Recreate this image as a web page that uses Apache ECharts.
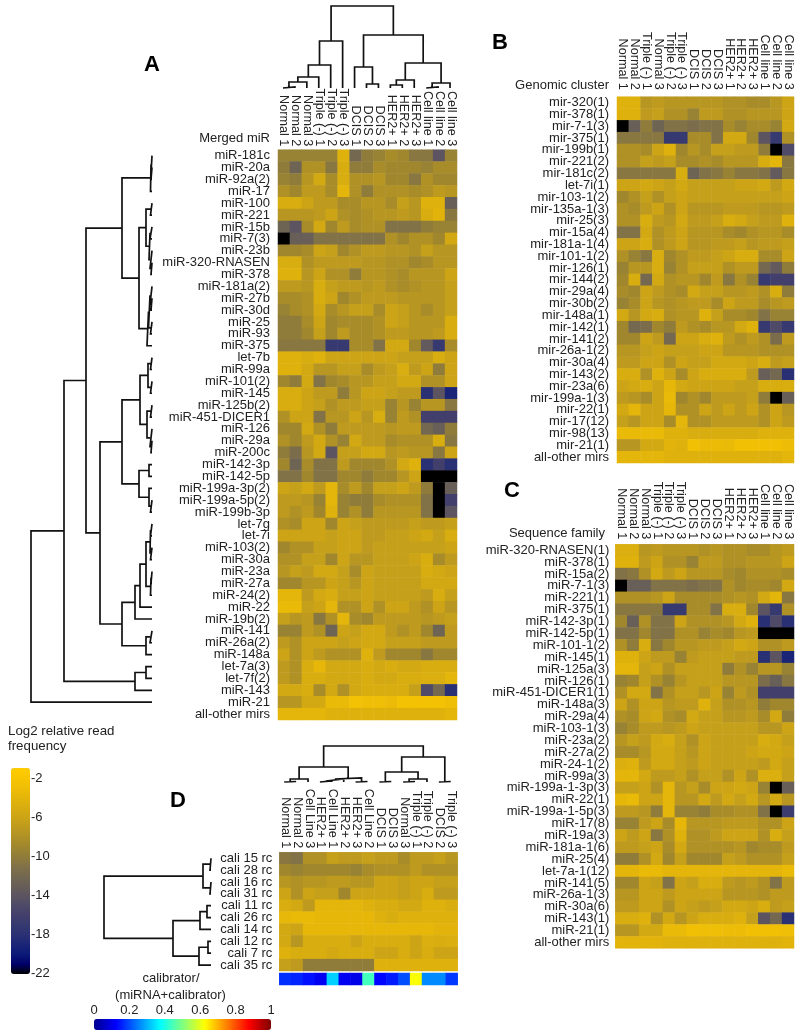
<!DOCTYPE html>
<html><head><meta charset="utf-8">
<style>html,body{margin:0;padding:0;background:#fff}#c{width:800px;height:1036px}</style>
<script src="https://cdn.jsdelivr.net/npm/echarts@6/dist/echarts.min.js"></script>
</head><body><div id="c"></div>
<script>
const colsStd=["Normal 1","Normal 2","Normal 3","Triple (-) 1","Triple (-) 2","Triple (-) 3","DCIS 1","DCIS 2","DCIS 3","HER2+ 1","HER2+ 2","HER2+ 3","Cell line 1","Cell line 2","Cell line 3"];
const colsB=["Normal 1","Normal 2","Triple (-) 1","Normal 3","Triple (-) 2","Triple (-) 3","DCIS 1","DCIS 2","DCIS 3","HER2+ 1","HER2+ 2","HER2+ 3","Cell line 1","Cell line 2","Cell line 3"];
const colsD=["Normal 1","Normal 2","Cell Line 3","HER2+ 1","Cell Line 1","HER2+ 2","HER2+ 3","Cell Line 2","DCIS 1","DCIS 3","Normal 3","Triple (-) 1","Triple (-) 2","DCIS 2","Triple (-) 3"];

const rowsA=["miR-181c","miR-20a","miR-92a(2)","miR-17","miR-100","miR-221","miR-15b","miR-7(3)","miR-23b","miR-320-RNASEN","miR-378","miR-181a(2)","miR-27b","miR-30d","miR-25","miR-93","miR-375","let-7b","miR-99a","miR-101(2)","miR-145","miR-125b(2)","miR-451-DICER1","miR-126","miR-29a","miR-200c","miR-142-3p","miR-142-5p","miR-199a-3p(2)","miR-199a-5p(2)","miR-199b-3p","let-7g","let-7i","miR-103(2)","miR-30a","miR-23a","miR-27a","miR-24(2)","miR-22","miR-19b(2)","miR-141","miR-26a(2)","miR-148a","let-7a(3)","let-7f(2)","miR-143","miR-21","all-other mirs"];
const valuesA=[
[-9.5,-9.5,-9.5,-9.5,-9.5,-4.5,-12,-10,-9.5,-8.5,-9,-10.5,-10.5,-14,-9.5],
[-10,-12.5,-8,-8,-10.5,-5,-10,-10,-8.5,-9,-9,-9,-9.5,-8.5,-8.5],
[-9.5,-10,-7.5,-5.5,-8.5,-5,-8,-8,-7.5,-9,-9,-10.5,-8,-9,-9],
[-8,-9,-7,-7,-8.5,-4,-8,-10,-8,-8,-8,-8.5,-8,-7,-7.5],
[-5,-5,-6,-7,-7,-8.5,-8.5,-7.5,-7.5,-8.5,-6.5,-7.5,-4.5,-4.5,-13],
[-7.5,-7.5,-7.5,-7,-6,-8,-8.5,-8,-7.5,-7.5,-7,-7.5,-5,-4.2,-10.5],
[-12.5,-14,-8.5,-5.5,-9,-7,-8.5,-8,-8,-11,-11,-11,-10,-9.5,-9.5],
[-22,-13,-13,-11,-11,-11,-11,-11,-11,-8,-9,-8,-8,-9,-5.5],
[-9,-9,-8.5,-6,-6.5,-9,-8,-7,-7,-7.5,-7.5,-8,-6.5,-7.5,-7.5],
[-5,-5,-8,-7,-7,-7,-7,-7.5,-7.5,-8,-8,-9,-8.5,-7.5,-7.5],
[-4.5,-4.5,-7.5,-6,-8,-8,-10,-7.5,-7.5,-8,-8.5,-7.5,-7.5,-7.5,-6],
[-7,-7,-7.5,-5,-6.5,-7,-7,-7.5,-7,-8,-8.5,-8,-7.5,-7.5,-6.5],
[-8.5,-8.5,-8,-5,-6,-9,-8,-7,-7,-7,-7.5,-7.5,-7.5,-7.5,-6.5],
[-9.5,-8.5,-8,-5.5,-8.5,-7.5,-6.5,-6.5,-8.5,-6,-6.5,-7.5,-8.5,-7.5,-6.5],
[-10,-10,-8.5,-6,-9,-8.5,-8.5,-8.5,-8,-6,-6.5,-7.5,-7.5,-7.5,-5],
[-10,-10,-9,-6.5,-9,-7,-8.5,-8.5,-8,-7,-7,-7.5,-7.5,-7,-5],
[-10.5,-10.5,-10.5,-10.5,-17,-17,-8.5,-8.5,-11,-5.5,-5.5,-9,-13.5,-17,-8.5],
[-4.5,-4.5,-5,-4.5,-6,-6,-6,-6,-6,-6,-6.5,-6.5,-6.5,-5,-6],
[-4.5,-4.5,-5.5,-7.5,-7.5,-6.5,-6.5,-8.5,-7,-6.5,-5,-7,-6,-10,-6],
[-9,-10,-5.5,-11,-9,-8.5,-7.5,-7.5,-6.5,-6.5,-5.5,-5.5,-8,-8,-6],
[-5,-5,-6,-7,-7,-10,-7.5,-6,-6,-6.5,-7,-7,-18,-14,-19],
[-5,-5,-6,-6.5,-8,-7,-7,-6.5,-6.5,-9.5,-7.5,-9.5,-7.5,-7.5,-10.5],
[-8,-6,-6,-11,-7.5,-7.5,-6,-7.5,-5,-9.5,-7,-8,-16,-16,-16],
[-9,-9,-5.5,-8,-10,-7,-7,-7,-7,-7.5,-7,-7,-12,-13,-10],
[-8,-9,-7,-5.5,-8,-9.5,-5.5,-7,-7,-8.5,-8,-8,-8,-5,-10.5],
[-10,-11.5,-7.5,-5.5,-14,-6.5,-6.5,-5.5,-5.5,-7.5,-7,-7.5,-7.5,-10.5,-6],
[-9,-12.5,-8.5,-11,-11,-7,-9,-9,-9,-8,-5.5,-4.5,-18,-16,-18],
[-11,-11,-9,-11,-11,-9,-9,-10,-9,-9,-7.5,-6,-22,-22,-22],
[-6,-6.5,-5.5,-7,-4,-8.5,-7,-9,-6.5,-6.5,-6,-7,-10,-22,-13],
[-7,-7,-7.5,-9.5,-4,-9.5,-10,-10,-8.5,-8,-8,-8,-11,-22,-16],
[-7,-8,-7,-9,-4.5,-9.5,-8,-10,-7.5,-7.5,-7.5,-7.5,-11,-22,-14],
[-8,-8.5,-6,-6,-9,-6,-6.5,-7,-7,-7,-7,-6.5,-7,-7,-6.5],
[-6,-6,-6,-6,-6.5,-6,-6,-7,-7,-6.5,-6.5,-6,-5.5,-6.5,-5],
[-9,-8,-8,-6.5,-6.5,-6,-6,-7,-6.5,-6.5,-6.5,-6.5,-6.5,-6.5,-6],
[-8,-8,-6.5,-6.5,-9,-6,-7.5,-7.5,-6.5,-6.5,-6.5,-6,-5,-8.5,-7],
[-7.5,-6.5,-7,-5.5,-5.5,-6.5,-8.5,-6,-6.5,-6.5,-6.5,-6.5,-5,-5.5,-6],
[-9,-9,-7.5,-7.5,-6,-6.5,-7.5,-6,-6.5,-6.5,-6.5,-6.5,-5.5,-5.5,-5.5],
[-4,-4,-7,-5.5,-5,-6.5,-6.5,-6,-6.5,-6.5,-6.5,-6.5,-7,-5,-6.5],
[-3.5,-3.5,-6.5,-6,-4,-8,-8,-6,-8,-6,-6,-7,-8,-6,-7.5],
[-6.5,-7.5,-7,-10.5,-8,-4,-8.5,-9,-7,-7,-7,-7,-7.5,-7,-6.5],
[-9.5,-9.5,-7,-8,-12.5,-6,-6.5,-5.5,-5.5,-7,-8,-7,-9,-12.5,-7],
[-7,-8,-6,-6,-6,-6.5,-6,-5.5,-5.5,-6.5,-6.5,-6.5,-7,-7,-7],
[-6,-8,-6,-7,-8,-8,-8,-4.5,-7,-9,-9,-9,-10.5,-9,-9],
[-7,-8,-5,-3.8,-5.5,-5.5,-5.5,-5,-5.5,-5,-5.5,-5.5,-5,-5,-5],
[-7,-8,-5,-5,-5.5,-5.5,-5.5,-5,-5.5,-5.5,-5,-5,-4.8,-4.8,-4],
[-5.5,-5.5,-5,-8.5,-5.5,-8,-5.5,-5,-5,-5,-5,-6.5,-15,-12,-18],
[-7.5,-7.5,-5.5,-5.5,-3.5,-3.5,-2.5,-3,-3,-3.3,-2.5,-2.5,-2.5,-2.5,-3],
[-4,-4,-4,-4,-4.5,-4.5,-4.5,-4.5,-4.5,-4.5,-4.5,-4.5,-4.5,-4.5,-4]
];

const rowsB=["mir-320(1)","mir-378(1)","mir-7-1(3)","mir-375(1)","mir-199b(1)","mir-221(2)","mir-181c(2)","let-7i(1)","mir-103-1(2)","mir-135a-1(3)","mir-25(3)","mir-15a(4)","mir-181a-1(4)","mir-101-1(2)","mir-126(1)","mir-144(2)","mir-29a(4)","mir-30b(2)","mir-148a(1)","mir-142(1)","mir-141(2)","mir-26a-1(2)","mir-30a(4)","mir-143(2)","mir-23a(6)","mir-199a-1(3)","mir-22(1)","mir-17(12)","mir-98(13)","mir-21(1)","all-other mirs"];
const valuesB=[
[-4.5,-4.5,-7.5,-7,-7.5,-7.5,-7.5,-7.5,-7.5,-8,-8,-8.5,-8.5,-7.5,-6],
[-4.5,-4.5,-7,-6.5,-8,-8,-9.5,-7,-7,-8,-8,-7.5,-7.5,-7.5,-6],
[-22,-13,-10,-12.5,-11,-11,-11.5,-11,-11,-8.5,-9.5,-8.5,-8.5,-9.5,-5.5],
[-10.5,-10.5,-10.5,-10.5,-17,-17,-8.5,-8.5,-11,-5.5,-5.5,-9,-14,-17,-8],
[-8,-8,-8.5,-6,-4.5,-9,-7.5,-8.5,-6.5,-6.5,-7,-7,-10,-22,-15],
[-8,-8,-6.5,-7,-6.5,-8.5,-8.5,-8,-8.5,-7.5,-7.5,-7.5,-5,-4,-10.5],
[-10.5,-10.5,-10.5,-10.5,-10.5,-5,-12.5,-11,-10.5,-9.5,-10.5,-10.5,-11,-13.5,-10.5],
[-6,-6,-5.5,-6,-6.5,-5.5,-6.5,-6.5,-6.5,-6.5,-6,-6,-5.5,-7,-5.5],
[-9,-8,-6.5,-8,-6.5,-6,-6.5,-6.5,-6.5,-6.5,-6.5,-6.5,-6.5,-6.5,-6],
[-8,-8.5,-7,-6,-8,-6,-7.5,-7.5,-7.5,-7,-7,-7,-7.5,-7.5,-7],
[-8,-8,-5,-7,-7.5,-5.5,-7,-7,-6.5,-5,-5.5,-6.5,-7,-7,-4.5],
[-11,-11,-5.5,-8,-7,-6,-7.5,-7.5,-7.5,-8.5,-9,-8,-7.5,-7.5,-8.5],
[-6,-6,-5,-8,-7,-6,-7.5,-7.5,-7,-7,-6.5,-7.5,-7,-7,-6.5],
[-8,-9.5,-10.5,-5,-9,-8,-7,-7,-6.5,-6,-5,-5,-8.5,-8.5,-6],
[-9.5,-7.5,-7.5,-5,-9.5,-8,-6.5,-6.5,-6.5,-8,-7,-7,-12,-13.5,-10],
[-9,-5,-12,-5.5,-8,-7.5,-7.5,-9,-7,-10.5,-8,-9.5,-17,-16,-16],
[-8.5,-9,-6,-7,-8,-8.5,-5.5,-6.5,-6.5,-7.5,-7.5,-7,-8,-5,-10],
[-9.5,-8.5,-6,-7.5,-8,-7.5,-7,-7,-8.5,-6,-7,-7,-8.5,-7.5,-7],
[-5.5,-7.5,-5.5,-5,-8,-7.5,-7.5,-4.5,-6.5,-8.5,-8.5,-9,-11,-9.5,-9.5],
[-9,-12,-11.5,-9,-10,-7,-8,-8.5,-7.5,-7.5,-5.5,-4.5,-17,-15,-17],
[-9,-9,-6,-7,-12,-6,-6,-5,-4.5,-7,-8,-7,-8,-11.5,-7],
[-7.5,-7.5,-6.5,-6,-6.5,-6.5,-6.5,-6,-6,-7.5,-7.5,-7.5,-8,-8,-8],
[-7,-7,-6,-6,-8,-6,-6.5,-6.5,-5.5,-5.5,-5.5,-6,-5,-7,-6.5],
[-5,-5,-8,-4.5,-6,-8.5,-6,-5,-5,-5,-5,-7,-13,-12,-18],
[-6,-5.5,-5,-6,-3.8,-5.5,-6,-6,-6,-6,-6.5,-6.5,-5,-5,-5],
[-7,-7.5,-8.5,-6,-3.5,-9,-8,-9,-7,-7,-7,-6.5,-10,-22,-13],
[-5.5,-4,-6,-6,-3.8,-8,-8,-6,-7,-6,-7,-6,-8,-6,-7.5],
[-6.5,-7.5,-6,-6,-8.5,-4,-8,-8,-7,-7,-7,-7,-8,-6,-7],
[-3.5,-3.5,-3.5,-3.5,-4.5,-4.5,-5,-5,-5,-5,-5,-5,-4.5,-4.5,-4.5],
[-7.5,-7.5,-5.5,-5.5,-4.2,-4.5,-2.8,-3.3,-3.3,-3.5,-2.8,-2.8,-2.8,-2.8,-3.2],
[-4,-4,-4,-4,-4.5,-4.5,-4.5,-4.5,-4.5,-4.5,-4.5,-4.5,-4.5,-4.5,-4]
];

const rowsC=["miR-320-RNASEN(1)","miR-378(1)","miR-15a(2)","miR-7-1(3)","miR-221(1)","miR-375(1)","miR-142-3p(1)","miR-142-5p(1)","miR-101-1(2)","miR-145(1)","miR-125a(3)","miR-126(1)","miR-451-DICER1(1)","miR-148a(3)","miR-29a(4)","miR-103-1(3)","miR-23a(2)","miR-27a(2)","miR-24-1(2)","miR-99a(3)","miR-199a-1-3p(3)","miR-22(1)","miR-199a-1-5p(3)","miR-17(8)","miR-19a(3)","miR-181a-1(6)","miR-25(4)","let-7a-1(12)","miR-141(5)","miR-26a-1(3)","miR-30a(6)","miR-143(1)","miR-21(1)","all-other mirs"];
const valuesC=[
[-4.8,-4.8,-7.5,-7,-7.5,-7.5,-7.5,-8,-7.5,-8,-8,-8.5,-8.5,-7.5,-7],
[-4.5,-4.5,-7,-6,-8,-8,-9.5,-7,-7,-8,-8,-7.5,-7.5,-7.5,-6],
[-11,-10.5,-8,-5.5,-7,-6,-7.5,-7.5,-7.5,-8.5,-9,-8,-8,-8,-8.5],
[-22,-13,-13,-11,-11,-11,-11.5,-11,-11,-8,-9,-8.5,-8.5,-9,-5.5],
[-8,-8,-8,-7.5,-6,-8.5,-8.5,-8.5,-8.5,-8,-7.5,-8,-5.5,-4,-10.5],
[-10.5,-10.5,-10.5,-10.5,-17,-17,-8.5,-8.5,-11,-5,-5,-9,-14,-17,-8],
[-9,-13,-8,-11,-11,-6,-8,-8,-8,-7.5,-5.5,-4.5,-18,-15,-18],
[-11,-11,-9,-11,-11,-8,-8,-9.5,-8.5,-9,-7.5,-7,-22,-22,-22],
[-8,-10,-5,-10.5,-9,-7.5,-7.5,-7,-7,-6.5,-5.5,-6,-8,-8,-7],
[-4.5,-4.5,-6,-7,-7,-9.5,-7,-6.5,-6.5,-6.5,-7,-7,-18,-14,-19],
[-4,-4,-6.5,-6,-8,-6.5,-6.5,-6.5,-6.5,-10,-8,-9.5,-7.5,-7.5,-9.5],
[-9.5,-9,-6.5,-8,-9.5,-7.5,-6.5,-6.5,-6.5,-7.5,-7.5,-7.5,-11.5,-13,-10.5],
[-8,-5.5,-5.5,-11,-8,-6.5,-6.5,-7.5,-6,-9.5,-7,-8,-16,-16,-16],
[-6,-8,-6,-6,-7.5,-7,-7,-4.5,-6.5,-8,-8,-7.5,-10,-9,-9],
[-8,-8.5,-6,-5.5,-8,-8.5,-5.5,-6.5,-6.5,-7.5,-7.5,-7,-8.5,-5.5,-10],
[-9.5,-8.5,-7,-7,-7.5,-7,-6,-6.5,-6.5,-6.5,-6.5,-6.5,-7.5,-7.5,-6],
[-7.5,-6.5,-7,-5.5,-5,-6.5,-8,-6,-6.5,-6.5,-6.5,-6.5,-5,-5.5,-6.5],
[-8.5,-8.5,-7.5,-5.5,-5.5,-6.5,-7.5,-6,-6.5,-6.5,-6.5,-6,-5.5,-5.5,-6],
[-4.8,-4.5,-7,-5.5,-5.5,-6.5,-7,-6,-6.5,-6.5,-6.5,-6.5,-7,-5.5,-6.5],
[-4,-4,-5.5,-7,-7,-6.5,-8,-6.5,-6.5,-8,-6,-8,-4.8,-4.8,-6.5],
[-6.5,-6.5,-6,-8,-4,-7.5,-6.5,-8.5,-6,-6,-5.5,-6,-9.5,-22,-13],
[-3.8,-3.5,-6,-6,-4,-7.5,-7.5,-5.5,-7,-5.5,-6.5,-5.5,-7.5,-5.5,-7.5],
[-7,-7,-7.5,-10,-4,-9.5,-9.5,-10,-8.5,-8.5,-8,-8,-11,-22,-16.5],
[-9.5,-9.5,-7,-6,-8.5,-3.8,-7.5,-7.5,-7.5,-7,-7,-7,-8,-8,-6],
[-6,-7,-6,-10.5,-8,-4.5,-8,-8,-7,-6,-6,-6,-8,-5,-6.5],
[-7,-7,-6.5,-6,-8.5,-5.5,-8,-8,-8,-8,-7.5,-9,-8.5,-8.5,-7],
[-10,-10,-8,-5.5,-9,-6.5,-9,-9,-9,-6.5,-7,-8,-8,-8,-6.5],
[-4,-4,-3.5,-3.5,-4,-4,-4,-4,-4,-4,-4,-4,-4,-4,-3.5],
[-9,-9,-6,-6.5,-11,-6,-6.5,-5,-5,-7,-7.5,-7,-8,-11,-7],
[-7.5,-7.5,-6,-6,-7,-6,-6,-6,-6,-7.5,-7.5,-7.5,-8,-7,-7],
[-7,-7,-6,-6,-8,-6,-6.5,-7,-6.5,-5.5,-5.5,-6,-5,-7,-6.5],
[-5,-5,-4.5,-8,-5.5,-7.5,-6,-5,-5,-5,-4.5,-6.5,-14,-12,-18],
[-7.5,-7.5,-5.5,-5.5,-3.5,-3.5,-2.8,-3,-3,-3.2,-3.2,-2.8,-2.8,-2.8,-3],
[-4.2,-4.2,-4.2,-4.2,-4.5,-4.5,-4.5,-4.5,-4.5,-4.5,-4.5,-4.5,-4.5,-4.5,-4.2]
];

const rowsD=["cali 15 rc","cali 28 rc","cali 16 rc","cali 31 rc","cali 11 rc","cali 26 rc","cali 14 rc","cali 12 rc","cali 7 rc","cali 35 rc"];
const valuesD=[
[-10.5,-11,-8,-8,-6.5,-7,-7,-6.5,-7,-7,-8.5,-7,-7,-6.5,-7.5],
[-9,-9.5,-9,-9,-9,-9,-9.5,-8.5,-8,-8,-8,-7,-8,-8,-8],
[-7.5,-8,-7.5,-7.5,-7,-7,-7.5,-7.5,-6,-6,-6.5,-6,-6,-6.5,-6.5],
[-6,-8,-6,-6.5,-6.5,-9,-6,-6,-6,-6,-6.5,-6,-5,-7,-7],
[-5,-5.5,-7,-4,-4,-4,-4,-4.5,-5,-5,-5.5,-5.5,-4.5,-4.5,-5],
[-3.7,-3.5,-3.5,-3.8,-3.8,-3.8,-3.8,-3.8,-4.5,-5,-4.5,-4.5,-4.5,-4.5,-4.5],
[-5.5,-6,-3.8,-3.8,-3.8,-3.8,-3.8,-3.8,-3.8,-3.8,-3.8,-3.8,-3.8,-4.2,-4.2],
[-5.5,-7.5,-5,-5,-5,-5,-6,-5,-5,-5,-5,-6,-4.8,-5,-4.8],
[-4.5,-5,-5,-5,-5.5,-5,-5,-5,-6,-6,-5,-6,-5,-6,-6],
[-6.5,-7,-10,-10,-10,-10,-10,-10,-4.5,-4.5,-4.5,-4.5,-4.5,-4.5,-4.5]
];
const calibratorRatio=[0.17,0.16,0.14,0.11,0.33,0.11,0.1,0.44,0.13,0.15,0.2,0.62,0.26,0.26,0.18];

// dendrograms: [height, left, right]; a plain number is a leaf index
const treeAcols=[82,[47,[23,[11,[6,[1,0,1],2],3],4],5],[53,[21,6,[4,7,8]],[25,[8,[3,9,10],11],[5,[1,12,13],14]]]];
const treeArows=[121,[88,[66,[30,[1.5,[1,0,[1,1,2]],3],[13,[6,[1.5,4,5],[3,[2,6,7],[2,8,[1,9,10]]]],[5,[3.5,[2,11,[1,12,13]],[1.5,14,15]],16]]],
  [52,[30,[12,[4,[1.5,17,18],[1.5,19,20]],[5,[1.5,21,22],[2,23,[1,24,25]]]],[13,[3,26,27],[3,28,[1.5,29,30]]]],
      [30,[17,[12,[6,[2,[1.5,31,32],[1.5,33,34]],[1.5,[1,35,36],37]],38],39],[6,[2,40,41],42]]]],
  [17,[6,43,44],45]],46];
const treeDcols=[36,[15,[3,[0.5,0,1],2],[4,[3,[1,3,4],5],[0.5,6,7]]],[25,[10,[0.5,8,9],[3,[0.5,10,11],12]],[0.5,13,14]]];
const treeDrows=[107,[8,[1,0,1],[1,2,3]],[38,[11,[4,4,5],6],[12,[3,7,8],9]]];

const log2Ticks=[-2,-6,-10,-14,-18,-22];
const log2Palette=["#000000","#00006a","#0b1a78","#1b2577","#2a3074","#363a70","#423f6c","#4e4a68","#5c5460","#685f58","#746850","#827248","#907c3a","#a0872e","#b09126","#be9b1e","#cca416","#d8ad10","#e4b50a","#efbe06","#f8c602","#ffcc00"];
const jetPalette=["#00008f","#0000ff","#0080ff","#00ffff","#80ff80","#ffff00","#ff8000","#ff0000","#800000"];
const FONT="'Liberation Sans',Arial,sans-serif", FS=13, FSX=12.6, INK="#222";

const grid=[],xAxis=[],yAxis=[],series=[];
function addHeat(box,cols,rows,vals,lm,tm,opts){
  const g=grid.length; grid.push(Object.assign({containLabel:false},box));
  xAxis.push({gridIndex:g,type:'category',data:cols,position:'top',axisLine:{show:false},axisTick:{show:false},splitLine:{show:false},
    axisLabel:{show:!(opts&&opts.noX),interval:0,rotate:90,margin:tm,fontFamily:FONT,fontSize:FSX,color:INK}});
  yAxis.push({gridIndex:g,type:'category',data:rows,inverse:true,axisLine:{show:false},axisTick:{show:false},splitLine:{show:false},
    axisLabel:{show:!(opts&&opts.noY),interval:0,margin:lm,fontFamily:FONT,fontSize:FS,color:INK}});
  const data=[]; vals.forEach((r,j)=>r.forEach((v,i)=>data.push([i,j,v])));
  series.push({type:'heatmap',xAxisIndex:g,yAxisIndex:g,data,silent:true,progressive:0,animation:false,itemStyle:{borderWidth:0}});
}
function layout(node,segs){ // returns [position,height]
  if(typeof node==='number') return [node,0];
  const a=layout(node[1],segs), b=layout(node[2],segs), h=node[0];
  segs.push([a[0],a[1]],[a[0],h],[b[0],h],[b[0],b[1]],[NaN,NaN]);
  return [(a[0]+b[0])/2,h];
}
function addDendro(box,tree,n,maxH,horizontal){
  const g=grid.length; grid.push(box);
  const segs=[]; layout(tree,segs);
  const pos={type:'value',min:-0.5,max:n-0.5,show:false,inverse:horizontal,gridIndex:g};
  const hgt={type:'value',min:0,max:maxH,show:false,inverse:horizontal,gridIndex:g};
  xAxis.push(horizontal?hgt:pos); yAxis.push(horizontal?pos:hgt);
  series.push({type:'line',xAxisIndex:g,yAxisIndex:g,data:horizontal?segs.map(s=>[s[1],s[0]]):segs,showSymbol:false,symbol:'none',silent:true,
    animation:false,connectNulls:false,clip:false,lineStyle:{color:'#111',width:1.7,join:'miter',cap:'butt'}});
}
addHeat({left:278,top:149.7,width:179,height:570.3},colsStd,rowsA,valuesA,8,3.5);
addHeat({left:617,top:96.7,width:177,height:366.3},colsB,rowsB,valuesB,8,7);
addHeat({left:615.3,top:544.3,width:178.7,height:404},colsStd,rowsC,valuesC,6,5);
addHeat({left:279.3,top:852.3,width:178.4,height:118.7},colsD,rowsD,valuesD,7,4);
addHeat({left:279.3,top:973,width:178.4,height:12},colsD,["calibrator"],[calibratorRatio],7,4,{noX:true,noY:true});
addDendro({left:277,top:0,width:179,height:88},treeAcols,15,88,false);
addDendro({left:30,top:149.7,width:122,height:570.3},treeArows,48,122,true);
addDendro({left:278.3,top:745,width:178.4,height:37},treeDcols,15,37,false);
addDendro({left:104,top:852.3,width:107,height:118.7},treeDrows,10,107,true);

// colour-scale axes
let g=grid.length;
grid.push({left:11,top:768,width:19,height:206});
xAxis.push({gridIndex:g,type:'value',show:false,min:0,max:1});
yAxis.push({gridIndex:g,type:'value',position:'right',min:-22.1,max:-0.9,axisLine:{show:false},axisTick:{show:false},splitLine:{show:false},
  axisLabel:{customValues:log2Ticks,margin:1,fontFamily:FONT,fontSize:13,color:INK,showMinLabel:true,showMaxLabel:true}});
g=grid.length;
grid.push({left:94,top:1019,width:177,height:11});
xAxis.push({gridIndex:g,type:'value',position:'top',min:0,max:1,interval:0.2,axisLine:{show:false},axisTick:{show:false},splitLine:{show:false},
  axisLabel:{margin:2,fontFamily:FONT,fontSize:13,color:INK,formatter:v=>String(+v.toFixed(1))}});
yAxis.push({gridIndex:g,type:'value',show:false,min:0,max:1});

const txt=(x,y,s,o)=>({type:'text',x,y,silent:true,style:Object.assign({text:s,fontFamily:FONT,fontSize:13,fill:INK,align:'left',verticalAlign:'middle'},o||{})});
const bold={fontWeight:'bold',fontSize:22,fill:'#000',align:'center'};
const chart=echarts.init(document.getElementById('c'),null,{renderer:'canvas'});
chart.setOption({
  animation:false,backgroundColor:'#fff',grid,xAxis,yAxis,series,
  visualMap:[
   {type:'continuous',seriesIndex:[0,1,2,3],min:-22,max:-1,orient:'vertical',left:11,top:768,itemWidth:19,itemHeight:206,padding:0,calculable:false,hoverLink:false,text:null,inRange:{color:log2Palette}},
   {type:'continuous',seriesIndex:[4],min:0,max:1,orient:'horizontal',left:94,top:1019,itemWidth:11,itemHeight:177,padding:0,calculable:false,hoverLink:false,text:null,inRange:{color:jetPalette}}
  ],
  graphic:[
   txt(152,65,'A',bold),txt(500,43,'B',bold),txt(512,491,'C',bold),txt(178,801,'D',bold),
   txt(270,138,'Merged miR',{align:'right'}),txt(609,85,'Genomic cluster',{align:'right'}),txt(605,533,'Sequence family',{align:'right'}),
   txt(8,731,'Log2 relative read',{fontSize:13.3}),txt(8,746,'frequency',{fontSize:13.3}),
   txt(171,978,'calibrator/',{align:'center'}),txt(170.5,995,'(miRNA+calibrator)',{align:'center'})
  ]
});
</script></body></html>
